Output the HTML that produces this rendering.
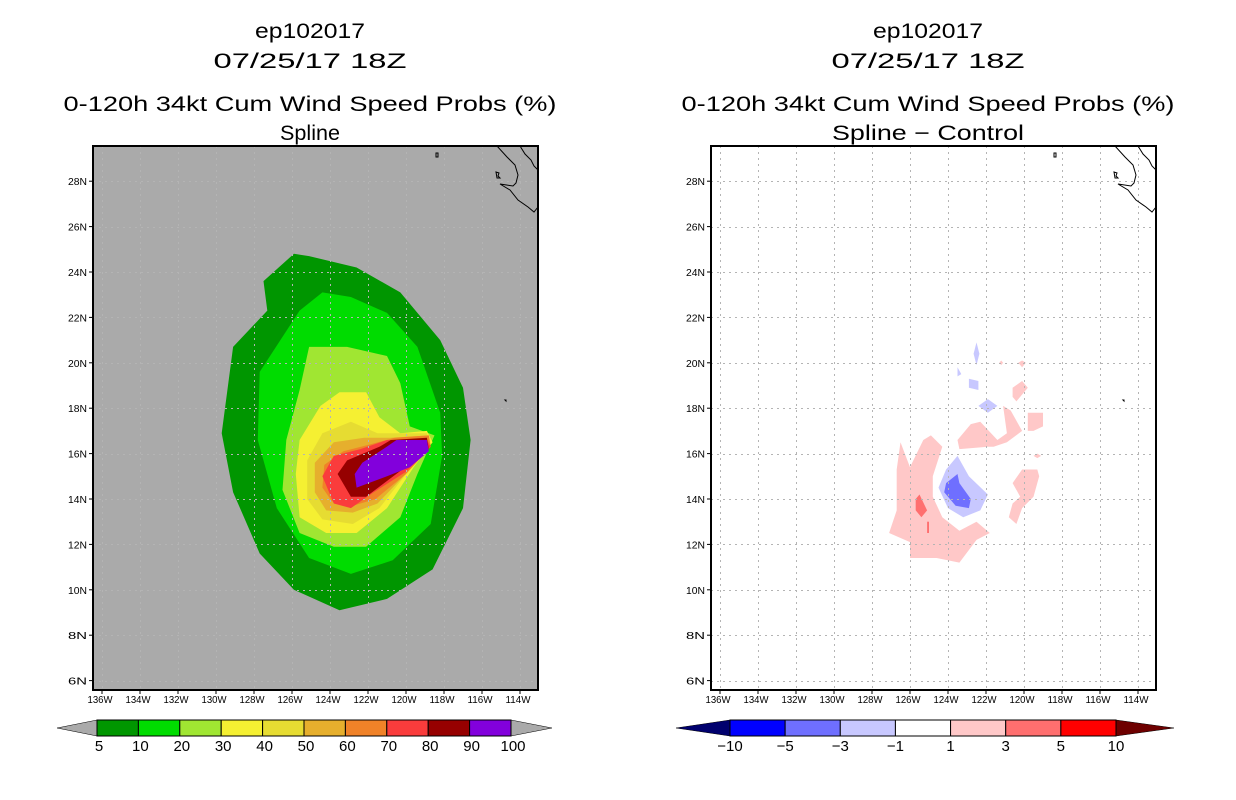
<!DOCTYPE html>
<html><head><meta charset="utf-8"><style>
html,body{margin:0;padding:0;background:#fff;}
svg{display:block;font-family:"Liberation Sans",sans-serif;}
</style></head><body>
<svg id="root" width="1236" height="800" viewBox="0 0 1236 800">
<g id="left"></g>
<g id="right"></g>
</svg>
<script>
// ---- data ----
const lonTicks=[-136,-134,-132,-130,-128,-126,-124,-122,-120,-118,-116,-114];
const latTicks=[6,8,10,12,14,16,18,20,22,24,26,28];
const probLevels=[5,10,20,30,40,50,60,70,80,90,100];
const probColors=["#009600","#00dc00","#a0e632","#f5f032","#e6dc32","#e6af2d","#f08228","#fa3c3c","#960000","#8200dc"];
const diffLevels=[-10,-5,-3,-1,1,3,5,10];
const diffColors=["#0000ff","#6f6fff","#c8c8ff","#ffffff","#ffc8c8","#ff6f6f","#ff0000"];
const p5=[[-125.1,24.7],[-122.6,24.2],[-120.3,23.1],[-118.2,21.0],[-117.0,18.9],[-116.6,16.6],[-117.0,13.6],[-118.6,10.9],[-121.0,9.6],[-123.5,9.1],[-125.9,10.0],[-127.7,11.6],[-129.1,14.3],[-129.7,16.9],[-129.1,20.7],[-127.3,22.3],[-127.5,23.6],[-125.9,24.8]];
const p10=[[-124.4,23.1],[-122.9,22.9],[-121.0,22.2],[-119.4,20.7],[-118.2,17.8],[-118.1,15.9],[-118.7,12.9],[-120.7,11.3],[-122.9,10.7],[-125.1,11.4],[-126.8,13.6],[-127.8,16.6],[-127.7,19.6],[-125.6,22.3]];
const p20=[[-125.1,20.7],[-123.1,20.7],[-121.0,20.3],[-120.3,19.1],[-119.8,17.2],[-118.5,16.8],[-119.4,15.1],[-120.3,13.2],[-122.1,11.9],[-123.8,11.9],[-125.6,12.5],[-126.5,14.4],[-126.3,16.6],[-125.6,18.8]];
const p30=[[-123.5,18.7],[-122.1,18.7],[-121.4,17.6],[-120.3,16.9],[-118.9,17.0],[-118.6,16.5],[-119.6,15.4],[-121.0,13.6],[-122.6,12.5],[-124.2,12.5],[-125.6,13.2],[-125.8,15.1],[-125.6,16.6],[-124.5,18.1]];
const p40=[[-122.9,17.4],[-121.5,16.9],[-118.9,16.9],[-118.7,16.4],[-119.8,15.3],[-121.4,13.6],[-122.8,12.9],[-124.4,13.1],[-125.2,14.0],[-125.2,15.7],[-124.4,16.9]];
const p50=[[-122.2,16.7],[-120.8,16.7],[-118.8,16.8],[-118.7,16.3],[-119.9,15.2],[-121.5,13.8],[-122.8,13.4],[-124.2,13.5],[-124.8,14.3],[-124.8,15.6],[-123.8,16.5]];
const p60=[[-121.9,16.4],[-120.6,16.7],[-118.8,16.8],[-118.7,16.3],[-120.0,15.1],[-121.6,14.0],[-122.8,13.7],[-123.9,13.9],[-124.4,14.5],[-124.3,15.5],[-123.3,16.1]];
const p70=[[-120.5,16.6],[-118.9,16.6],[-118.7,16.3],[-120.0,15.2],[-121.7,14.3],[-122.9,13.6],[-123.8,13.8],[-124.4,15.0],[-123.8,15.9],[-122.4,16.2],[-121.0,16.6]];
const p80=[[-120.8,16.6],[-118.9,16.7],[-118.8,16.2],[-120.2,15.3],[-122.1,14.1],[-122.9,14.1],[-123.6,15.1],[-123.1,15.7],[-121.4,16.3]];
const p90=[[-120.5,16.6],[-118.9,16.6],[-118.8,16.1],[-119.8,15.4],[-121.0,15.0],[-122.6,14.5],[-122.7,15.1],[-122.3,15.6],[-121.2,16.2]];
const probPolys=[p5,p10,p20,p30,p40,p50,p60,p70,p80,p90];
const dPinkA=[[-126.5,16.5],[-126.0,15.4],[-125.3,16.6],[-124.9,16.8],[-124.3,16.3],[-124.8,15.0],[-124.8,14.1],[-124.3,13.2],[-123.4,12.6],[-122.5,13.0],[-121.8,12.5],[-122.5,12.2],[-123.4,11.2],[-124.6,11.4],[-126.0,11.4],[-126.0,12.1],[-127.1,12.5],[-126.7,13.5],[-126.7,15.3]];
const dPinkB=[[-123.5,16.6],[-122.8,17.3],[-122.3,17.4],[-121.4,16.6],[-120.9,16.9],[-121.1,18.1],[-120.7,17.9],[-120.1,17.0],[-120.9,16.5],[-121.6,16.3],[-121.9,16.3],[-123.4,16.2]];
const dPinkC=[[-119.8,17.8],[-119.0,17.8],[-119.0,17.2],[-119.5,17.0],[-119.8,17.0]];
const dPinkD=[[-120.6,18.9],[-120.1,19.2],[-119.8,18.9],[-120.4,18.3],[-120.6,18.5]];
const dPinkE=[[-120.1,15.3],[-119.3,15.3],[-119.2,15.0],[-119.5,14.1],[-120.1,13.6],[-120.4,12.9],[-120.8,13.2],[-120.6,13.8],[-120.2,14.1],[-120.6,14.7]];
const dPinkF=[[-119.3,16.0],[-119.1,15.9],[-119.3,15.8],[-119.5,15.9]];
const dPinkG=[[-120.1,20.1],[-119.9,20.0],[-120.1,19.8],[-120.3,20.0]];
const dPinkH=[[-121.2,20.1],[-121.1,20.0],[-121.2,19.9],[-121.3,20.0]];
const dRedA=[[-125.7,14.0],[-125.5,14.2],[-125.1,13.5],[-125.4,13.2],[-125.7,13.5]];
const dRedB=[[-125.1,13.0],[-125.0,13.0],[-125.0,12.5],[-125.1,12.5]];
const dBlueL=[[-123.5,15.9],[-122.9,15.0],[-121.9,14.2],[-122.3,13.5],[-123.2,13.2],[-124.0,13.6],[-124.5,14.5],[-124.1,15.3]];
const dBlueD=[[-123.5,15.1],[-123.4,14.7],[-122.8,14.0],[-122.9,13.6],[-123.6,13.7],[-124.2,14.3],[-124.1,14.7]];
const dBlueS1=[[-122.5,20.9],[-122.35,20.4],[-122.5,19.9],[-122.65,20.4]];
const dBlueS2=[[-122.9,19.3],[-122.4,19.2],[-122.4,18.8],[-122.9,18.9]];
const dBlueS3=[[-121.9,18.4],[-121.4,18.1],[-121.9,17.8],[-122.4,18.1]];
const dBlueS4=[[-123.5,19.8],[-123.3,19.5],[-123.5,19.4]];
const diffPolys=[[dPinkA,4],[dPinkB,4],[dPinkC,4],[dPinkD,4],[dPinkE,4],[dPinkF,4],[dPinkG,4],[dPinkH,4],[dRedA,5],[dRedB,5],[dBlueL,2],[dBlueD,1],[dBlueS1,2],[dBlueS2,2],[dBlueS3,2],[dBlueS4,2]];

// ---- axes ----
const NS="http://www.w3.org/2000/svg";
const F={x0:93,x1:538,y0:146,y1:690};
function xs(lon,off){return 330+off+(lon+124)*19;}
function ys(lat){return 272+(24-lat)*22.7;}
function mk(tag,attrs,parent){const e=document.createElementNS(NS,tag);for(const k in attrs)e.setAttribute(k,attrs[k]);parent.appendChild(e);return e;}
function pts(poly,off){return poly.map(p=>xs(p[0],off).toFixed(1)+","+ys(p[1]).toFixed(1)).join(" ");}
function txt(g,x,y,s,size,anchor,len){const t=mk("text",{x:x,y:y,"font-size":size,"text-anchor":anchor||"middle",fill:"#000"},g);if(len){t.setAttribute("textLength",len);t.setAttribute("lengthAdjust","spacingAndGlyphs");}t.textContent=s;return t;}

function panel(g,off,bg,sub,isLeft){
  const cx=310+off;
  let t;
  t=txt(g,cx,38,"ep102017",21,"middle",110);
  
  
  t=txt(g,cx,68,"07/25/17 18Z",21,"middle",193);
  
  
  t=txt(g,cx,111,"0-120h 34kt Cum Wind Speed Probs (%)",21,"middle",493);
  
  
  t=txt(g,cx,140,sub,21,"middle",isLeft?60:192);
  
  
  const clipId="clip"+off;
  const cp=mk("clipPath",{id:clipId},g);
  mk("rect",{x:F.x0+off,y:F.y0,width:F.x1-F.x0,height:F.y1-F.y0},cp);
  const bgr=mk("rect",{x:F.x0+off,y:F.y0,width:F.x1-F.x0,height:F.y1-F.y0,fill:bg},g);
  
  
  const cg=mk("g",{"clip-path":"url(#"+clipId+")"},g);
  
  
  if(isLeft){
    probPolys.forEach((p,i)=>{
      const e=mk("polygon",{points:pts(p,off),fill:probColors[i]},cg);
      
      
    });
  } else {
    diffPolys.forEach(d=>{
      const e=mk("polygon",{points:pts(d[0],off),fill:diffColors[d[1]]},cg);
      
      
    });
  }
  const gg=mk("g",{stroke:"#b4b4b4","stroke-width":1,"stroke-dasharray":"2,4"},cg);
  
  
  lonTicks.forEach(l=>{const x=Math.round(xs(l,off))+0.5;mk("line",{x1:x,x2:x,y1:F.y0,y2:F.y1},gg);});
  latTicks.forEach(l=>{const y=Math.round(ys(l))+0.5;mk("line",{x1:F.x0+off,x2:F.x1+off,y1:y,y2:y},gg);});
  const c=mk("path",{d:"M"+(497+off)+",146 L"+(507+off)+",157 L"+(515+off)+",165 L"+(518+off)+",175 L"+(516+off)+",183 L"+(513+off)+",186 L"+(500+off)+",184 L"+(510+off)+",190 L"+(518+off)+",200 L"+(528+off)+",207 L"+(534+off)+",212 L"+(538+off)+",207 M"+(520+off)+",146 L"+(525+off)+",154 L"+(531+off)+",160 L"+(534+off)+",166 L"+(538+off)+",170 M"+(436+off)+",153 l2,0 l0,4 l-2,0 z M"+(496+off)+",172 l3,1 l-1,3 l2,2 l-3,0 z M"+(505+off)+",400 l1,0 l0,1 z",fill:"none",stroke:"#000","stroke-width":1},cg);
  
  
  const fr=mk("rect",{x:F.x0+off,y:F.y0,width:F.x1-F.x0,height:F.y1-F.y0,fill:"none",stroke:"#000","stroke-width":2},g);
  
  
  lonTicks.forEach(l=>{const x=xs(l,off);
    mk("line",{x1:x,x2:x,y1:F.y1,y2:F.y1+4,stroke:"#000"},g);
    const tt=txt(g,x-2,703,(-l)+"W",10,"middle",25);
    
    });
  latTicks.forEach(l=>{const y=ys(l);
    mk("line",{x1:F.x0+off-4,x2:F.x0+off,y1:y,y2:y,stroke:"#000"},g);
    const tt=txt(g,F.x0+off-6,y+4,l+"N",10,"end",19);
    
    });
}
function colorbar(g,x0,x1,tipL,tipR,colors,labels,tipLc,tipRc,labelSide){
  const y0=720,y1=736,ym=728,w=(x1-x0)/colors.length;
  const cb=mk("g",{},g);
  
  
  mk("polygon",{points:tipL+","+ym+" "+x0+","+y0+" "+x0+","+y1,fill:tipLc,stroke:"#000","stroke-width":0.5},cb);
  mk("polygon",{points:tipR+","+ym+" "+x1+","+y0+" "+x1+","+y1,fill:tipRc,stroke:"#000","stroke-width":0.5},cb);
  colors.forEach((c,i)=>{const r=mk("rect",{x:x0+i*w,y:y0,width:w,height:y1-y0,fill:c,stroke:"#000","stroke-width":1},cb);
    
    });
  labels.forEach((l,i)=>{const x=labelSide(i,w,x0);
    const t=txt(cb,x,751,(l<0?"\u2212"+(-l):String(l)),15,"middle");
    
    });
}
const L=document.getElementById("left"),R=document.getElementById("right");
panel(L,0,"#aaaaaa","Spline",true);
panel(R,618,"#ffffff","Spline \u2212 Control",false);
colorbar(L,97,511,57,552,probColors,probLevels,"#aaaaaa","#aaaaaa",(i,w,x0)=>x0+i*w+2);
colorbar(R,730,1116,676,1174,diffColors,diffLevels,"#00006e","#6e0000",(i,w,x0)=>x0+i*w);
</script>
</body></html>
